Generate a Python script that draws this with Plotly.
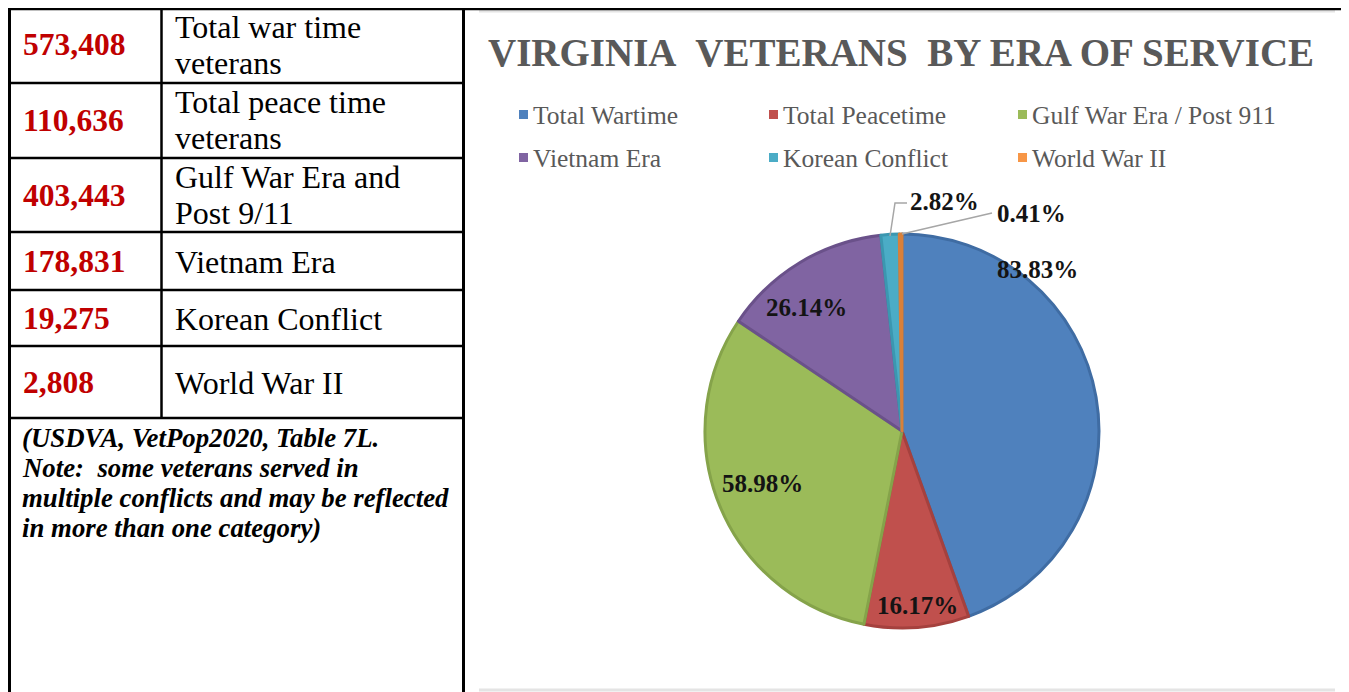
import plotly.graph_objects as go

# ---------------- data ----------------
table_values = ["573,408", "110,636", "403,443", "178,831", "19,275", "2,808"]
table_labels = [["Total war time", "veterans"], ["Total peace time", "veterans"],
                ["Gulf War Era and", "Post 9/11"], ["Vietnam Era"], ["Korean Conflict"],
                ["World War II"]]
note_lines = ["(USDVA, VetPop2020, Table 7L.",
              "Note:  some veterans served in",
              "multiple conflicts and may be reflected",
              "in more than one category)"]

categories = ["Total Wartime", "Total Peacetime", "Gulf War Era / Post 911",
              "Vietnam Era", "Korean Conflict", "World War II"]
counts = [573408, 110636, 403443, 178831, 19275, 2808]
colors = ["#4F81BD", "#C0504D", "#9BBB59", "#8064A2", "#4BACC6", "#F79646"]
edge_colors = ["#3F6CA3", "#A5413E", "#85A34A", "#6A518A", "#3B97B0", "#D9803A"]
title_text = "VIRGINIA\u00a0 VETERANS\u00a0 BY ERA OF SERVICE"

# percentages as shown (share of wartime + peacetime total)
base_total = counts[0] + counts[1]
pct_labels = ["{:.2f}%".format(v / base_total * 100) for v in counts]

# ---------------- layout helpers (page pixel -> paper) ----------------
OFF = 8                      # page body margin
W, H = 1341, 684
ML, MR = 472, 14
PW = W - ML - MR


def px(x):
    return (x - OFF - ML) / PW


def py(y):
    return 1 - (y - OFF) / H


fig = go.Figure()

fig.add_trace(go.Pie(
    labels=categories, values=counts, sort=False, direction="clockwise", rotation=0,
    marker=dict(colors=colors, line=dict(color=edge_colors, width=3)),
    textinfo="none", hoverinfo="label+value", showlegend=False,
    domain=dict(x=[px(705), px(1099)], y=[py(628), py(234)]),
))

shapes = []
BLACK = "#000000"


def hline(y, x0, x1, w=2.5, c=BLACK):
    shapes.append(dict(type="line", xref="paper", yref="paper", x0=px(x0), x1=px(x1),
                       y0=py(y), y1=py(y), line=dict(color=c, width=w)))


def vline(x, y0, y1, w=2.5, c=BLACK):
    shapes.append(dict(type="line", xref="paper", yref="paper", x0=px(x), x1=px(x),
                       y0=py(y0), y1=py(y1), line=dict(color=c, width=w)))


# chart frame (light grey top/bottom)
hline(11, 479, 1335, 3, "#E4E4E4")
hline(690, 479, 1335, 3, "#E4E4E4")
# table grid
hline(9, 8, 1349, 2.5)
vline(9.5, 8, 692, 3)
vline(463.5, 8, 692, 3)
vline(161.5, 8, 418)
for yy in [83, 158, 232, 290, 346, 418]:
    hline(yy, 9, 463)

# leader lines for small slices
shapes.append(dict(type="path", xref="paper", yref="paper",
                   path="M %f %f L %f %f L %f %f" % (px(890), py(236), px(895), py(203), px(907), py(203)),
                   line=dict(color="#A6A6A6", width=1.5)))
shapes.append(dict(type="path", xref="paper", yref="paper",
                   path="M %f %f L %f %f" % (px(902), py(234), px(992), py(213)),
                   line=dict(color="#A6A6A6", width=1.5)))

ann = []
SERIF = "Liberation Serif"


def text(x, y, s, size, color="#000000", xanchor="left", bold=False, italic=False):
    if bold:
        s = "<b>%s</b>" % s
    if italic:
        s = "<i>%s</i>" % s
    ann.append(dict(x=px(x), y=py(y), xref="paper", yref="paper", text=s, showarrow=False,
                    xanchor=xanchor, yanchor="middle",
                    font=dict(family=SERIF, size=size, color=color)))


row_centers = [45, 120, 195, 261, 318, 382]
for yc, v, lab in zip(row_centers, table_values, table_labels):
    text(21, yc, v, 31.5, "#C00000", bold=True)
    if len(lab) == 2:
        text(173, yc - 18, lab[0], 32)
        text(173, yc + 18, lab[1], 32)
    else:
        text(173, yc + 1, lab[0], 32)

for i, line in enumerate(note_lines):
    text(20, 438 + 30 * i, line, 26.8, bold=True, italic=True)

# title
text(901, 52, title_text, 39, "#595959", xanchor="center", bold=True)

# legend (3 columns x 2 rows), keyed to the slice colours
leg_cols = [519, 769, 1018]
leg_rows = [114, 157]
for i, (cat, col) in enumerate(zip(categories, colors)):
    lx = leg_cols[i % 3]
    ly = leg_rows[i // 3]
    shapes.append(dict(type="rect", xref="paper", yref="paper",
                       x0=px(lx), x1=px(lx + 9), y0=py(ly + 5), y1=py(ly - 4),
                       fillcolor=col, line=dict(width=0)))
    text(lx + 12, ly + 1, cat, 25.5, "#595959")

# pie percentage labels
label_pos = [(1037, 269), (917, 605), (762, 483), (806, 307), (944, 201), (1031, 213)]
for (lx, ly), t in zip(label_pos, pct_labels):
    text(lx, ly, t, 25, "#141414", xanchor="center", bold=True)

fig.update_layout(
    width=W, height=H, margin=dict(l=ML, r=MR, t=0, b=0),
    paper_bgcolor="white", plot_bgcolor="white",
    shapes=shapes, annotations=ann,
    showlegend=False,
)

fig.write_html("out.html")
